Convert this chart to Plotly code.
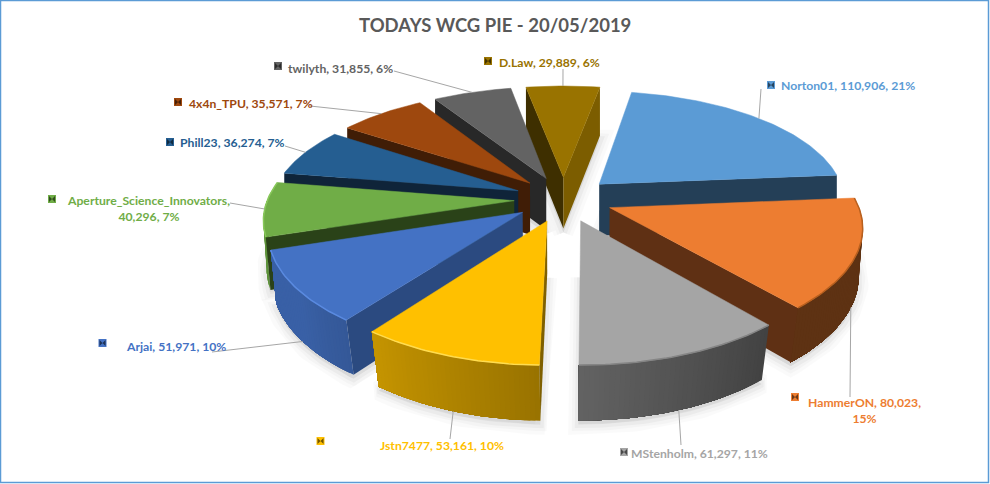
import numpy as np
import plotly.graph_objects as go

names = ["Norton01", "HammerON", "MStenholm", "Jstn7477", "Arjai", "Aperture_Science_Innovators",
         "Phill23", "4x4n_TPU", "twilyth", "D.Law"]
scores = [110906, 80023, 61297, 53161, 51971, 40296, 36274, 35571, 31855, 29889]
percents = [21, 15, 11, 10, 10, 7, 7, 7, 6, 6]

top_colors = ["#5B9BD5", "#ED7D31", "#A5A5A5", "#FFC000", "#4472C4", "#70AD47", "#255E91", "#9E480E", "#636363", "#997300"]
wall_start = ["#243F57", "#5F3014", "#404040", "#7F6000", "#2B4A80", "#2A4218", "#0F2439", "#401D06", "#282828", "#3E2F00"]
wall_end = ["#243F57", "#5F3014", "#666666", "#7F6000", "#2B4A80", "#2A4218", "#0F2439", "#401D06", "#282828", "#7C5D00"]
rim_colors = ["#5B9BD5", "#B8601F", "#858585", "#FFDC50", "#5A8AE0", "#88C85A", "#255E91", "#9E480E", "#636363", "#997300"]
label_colors = ["#5B9BD5", "#ED7D31", "#A5A5A5", "#FFC000", "#4472C4", "#70AD47", "#255E91", "#9E480E", "#636363", "#997300"]

# label placement, in picture pixels (centre of text)
label_x = [847.5, 864.5, 699, 442, 175.5, 148, 232, 250.5, 340.5, 549]
label_y = [85, 410, 453, 445, 346, 208, 142, 103, 68, 62]
key_x = [771, 795, 624, 320.5, 102.5, 52, 170, 178, 278, 488]
key_y = [85, 397, 452, 441, 343, 199, 142, 102, 66, 61]
leader_x = [761, 850, 681, 450, 212, 230, 285, 310, 394, 563]
leader_y = [89, 397, 445, 439, 352, 203, 146, 106, 71, 69]

title_text = "TODAYS WCG PIE - 20/05/2019"

# pie geometry
CX, CY = 563.5, 199
A, B = 246.5, 112.6
KX, KY = 0.145, 0.163
EXPLODE = 0.2
START_ANGLE = 10


def project(x, y, lower=False):
    x, y = np.asarray(x, float), np.asarray(y, float)
    sx, sy = A * x / (1 + KX * y), -B * y / (1 + KY * y)
    if lower:
        sx = sx * (1 - 0.03 * np.clip(0.2 - y, 0, None))
        sy = sy + 52 - 3 * y
    return CX + sx, CY + sy


def polygon(fig, xs, ys, color, line_width=0.0):
    fig.add_trace(go.Scatter(x=xs, y=ys, mode="lines", fill="toself", fillcolor=color,
                             line={"color": color, "width": line_width},
                             hoverinfo="skip", showlegend=False))


def shade(hex_color, factor):
    rgb = [int(hex_color[i:i + 2], 16) for i in (1, 3, 5)]
    return "rgb({},{},{})".format(*[int(min(255, c * factor)) for c in rgb])


def arc_factor(deg):
    return float(np.clip(0.4 + (deg - 139) * 0.0048, 0.4, 0.85))


fractions = np.array(scores) / sum(scores)
edges = START_ANGLE + np.concatenate([[0], np.cumsum(fractions)]) * 360
mids = (edges[:-1] + edges[1:]) / 2

fig = go.Figure()

# paint from the back of the pie to the front
order = np.argsort(-np.cos(np.radians(mids)))
for i in order:
    ex = EXPLODE * np.sin(np.radians(mids[i]))
    ey = EXPLODE * np.cos(np.radians(mids[i]))
    deg = np.linspace(edges[i], edges[i + 1], max(int(edges[i + 1] - edges[i]) + 1, 8))
    arc_x = ex + np.sin(np.radians(deg))
    arc_y = ey + np.cos(np.radians(deg))

    top_x, top_y = project(arc_x, arc_y)
    low_x, low_y = project(arc_x, arc_y, lower=True)
    tip_x, tip_y = project(ex, ey)
    tip_lx, tip_ly = project(ex, ey, lower=True)

    # soft shadow under the slice
    for width, alpha in [(20, 0.018), (13, 0.025), (7, 0.035)]:
        fig.add_trace(go.Scatter(x=np.r_[tip_lx, low_x, tip_lx], y=np.r_[tip_ly, low_y, tip_ly] + 4,
                                 mode="lines", fill="toself", fillcolor=f"rgba(0,0,0,{alpha})",
                                 line={"color": f"rgba(0,0,0,{alpha})", "width": width},
                                 hoverinfo="skip", showlegend=False))

    # outer wall: only the part facing the viewer. Each polygon runs to the end of
    # the arc and the next one paints over it, which leaves no seams between shades
    facing = np.where(np.cos(np.radians(deg)) < 0.02)[0]
    for j in facing[:-1]:
        rest = facing[facing >= j]
        polygon(fig, np.r_[top_x[rest], low_x[rest][::-1]], np.r_[top_y[rest], low_y[rest][::-1]],
                shade(top_colors[i], arc_factor((deg[j] + deg[j + 1]) / 2)))

    # radial walls, where they face the viewer
    if np.sin(np.radians(edges[i])) < 0:
        polygon(fig, [tip_x, top_x[0], low_x[0], tip_lx, tip_x], [tip_y, top_y[0], low_y[0], tip_ly, tip_y], wall_start[i])
    if np.sin(np.radians(edges[i + 1])) > 0:
        polygon(fig, [tip_x, top_x[-1], low_x[-1], tip_lx, tip_x], [tip_y, top_y[-1], low_y[-1], tip_ly, tip_y], wall_end[i])

    # top face
    polygon(fig, np.r_[tip_x, top_x, tip_x], np.r_[tip_y, top_y, tip_y], top_colors[i], 0.5)

    # bevel along the front of the rim
    front = arc_y < 0.15
    if front.any():
        fig.add_trace(go.Scatter(x=top_x[front], y=top_y[front], mode="lines",
                                 line={"color": rim_colors[i], "width": 1.5},
                                 hoverinfo="skip", showlegend=False))

# leader lines end on the slice's bisector
for i in range(len(names)):
    ex = (EXPLODE + 1) * np.sin(np.radians(mids[i]))
    ey = (EXPLODE + 1) * np.cos(np.radians(mids[i]))
    on_front = ey < -0.3
    px, py = project(ex, ey, lower=on_front)
    fig.add_trace(go.Scatter(x=[leader_x[i], float(px)], y=[leader_y[i], float(py)], mode="lines",
                             line={"color": "#A6A6A6", "width": 1}, hoverinfo="skip", showlegend=False))

# legend keys
for i in range(len(names)):
    fig.add_trace(go.Scatter(x=[key_x[i]], y=[key_y[i]], mode="markers",
                             marker={"symbol": "square", "size": 8, "color": top_colors[i]},
                             hoverinfo="skip", showlegend=False))
    fig.add_trace(go.Scatter(x=[key_x[i]], y=[key_y[i]], mode="markers",
                             marker={"symbol": "bowtie", "size": 6, "color": shade(top_colors[i], 0.45)},
                             hoverinfo="skip", showlegend=False))

annotations = []
for i in range(len(names)):
    text = f"{names[i]}, {scores[i]:,}, {percents[i]}%"
    if i == 1:
        text = f"{names[i]}, {scores[i]:,},<br>{percents[i]}%"
    if i == 5:
        text = f"{names[i]},<br>{scores[i]:,}, {percents[i]}%"
    annotations.append({"x": label_x[i], "y": label_y[i], "text": text, "showarrow": False,
                        "xanchor": "center", "yanchor": "middle", "align": "center",
                        "font": {"family": "Lato", "size": 12.2, "color": label_colors[i], "weight": "bold"}})

fig.update_layout(
    width=990,
    height=484,
    margin={"l": 0, "r": 0, "t": 0, "b": 0},
    paper_bgcolor="white",
    plot_bgcolor="white",
    showlegend=False,
    xaxis={"range": [0, 990], "visible": False},
    yaxis={"range": [484, 0], "visible": False},
    annotations=annotations + [{"x": 495, "y": 25, "text": title_text, "showarrow": False,
                                "xanchor": "center", "yanchor": "middle",
                                "font": {"family": "Lato", "size": 18.5, "color": "#595959", "weight": "bold"}}],
    shapes=[{"type": "rect", "x0": 0.5, "y0": 0.5, "x1": 988.5, "y1": 482.5,
             "line": {"color": "#5B9BD5", "width": 1.5}}],
)

fig.write_html("out.html", config={"displayModeBar": False}, post_script="document.body.style.margin='0';")
